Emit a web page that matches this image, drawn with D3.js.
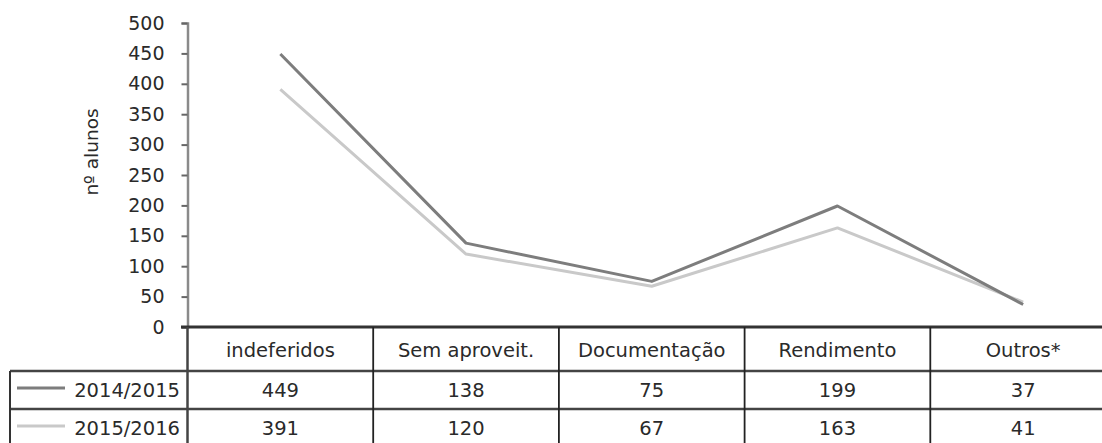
<!DOCTYPE html>
<html>
<head>
<meta charset="utf-8">
<script src="https://cdn.jsdelivr.net/npm/d3@7"></script>
<style>
  body { margin: 0; background: #fff; }
  svg text { font-family: "DejaVu Sans", Verdana, sans-serif; fill: #2a2a2a; }
</style>
</head>
<body>
<svg id="chart" width="1102" height="443"></svg>
<script>
const categories = ['indeferidos', 'Sem aproveit.', 'Documentação', 'Rendimento', 'Outros*']
const seriesNames = ['2014/2015', '2015/2016']
const values2014 = [449, 138, 75, 199, 37]
const values2015 = [391, 120, 67, 163, 41]
const yTicks = [0, 50, 100, 150, 200, 250, 300, 350, 400, 450, 500]
const lineColors = ['#7d7d7d', '#c9c9c9']

const svg = d3.select('#chart')

let x = d3.scaleBand().domain(categories).range([187.5, 1116]).padding(0)
let y = d3.scaleLinear().domain([0, 500]).range([327, 23])

// y axis
let yAxis = svg.append('g')
  .attr('transform', 'translate(187.5,0)')
  .call(d3.axisLeft(y).tickValues(yTicks).tickSize(6).tickPadding(17))
yAxis.select('.domain').attr('stroke', '#8a8a8a').attr('stroke-width', 2.5)
yAxis.selectAll('.tick line').attr('stroke', '#666').attr('stroke-width', 2)
yAxis.selectAll('.tick text').style('font-size', '19px').attr('fill', '#2a2a2a')

svg.append('text')
  .attr('transform', 'translate(98,152) rotate(-90)')
  .attr('text-anchor', 'middle')
  .style('font-size', '18.5px')
  .text('nº alunos')

// lines
const series = [values2014, values2015]
let line = d3.line()
  .x((d, i) => x(categories[i]) + x.bandwidth() / 2)
  .y(d => y(d))

// light first so dark sits on top
svg.selectAll('path.series')
  .data([1, 0])
  .enter()
  .append('path')
  .attr('class', 'series')
  .attr('d', s => line(series[s]))
  .attr('fill', 'none')
  .attr('stroke', s => lineColors[s])
  .attr('stroke-width', 3)
  .attr('stroke-linejoin', 'round')

// data table
const rowTop = [327, 371, 409, 447]
const tableLeft = 10
let table = svg.append('g')

// horizontal rules
table.append('line')
  .attr('x1', 181).attr('x2', 1102).attr('y1', rowTop[0]).attr('y2', rowTop[0])
  .attr('stroke', '#333').attr('stroke-width', 3)
table.selectAll('line.hrow')
  .data([rowTop[1], rowTop[2]])
  .enter()
  .append('line')
  .attr('class', 'hrow')
  .attr('x1', tableLeft).attr('x2', 1102)
  .attr('y1', d => d).attr('y2', d => d)
  .attr('stroke', '#444').attr('stroke-width', 2.5)

// vertical rules
table.selectAll('line.vcol')
  .data(categories.slice(1))
  .enter()
  .append('line')
  .attr('class', 'vcol')
  .attr('x1', d => x(d)).attr('x2', d => x(d))
  .attr('y1', rowTop[0]).attr('y2', 443)
  .attr('stroke', '#222').attr('stroke-width', 1.8)
table.append('line')
  .attr('x1', 187.5).attr('x2', 187.5).attr('y1', rowTop[0]).attr('y2', 443)
  .attr('stroke', '#444').attr('stroke-width', 2.5)
table.append('line')
  .attr('x1', tableLeft).attr('x2', tableLeft).attr('y1', rowTop[1]).attr('y2', 443)
  .attr('stroke', '#333').attr('stroke-width', 2)

// header
table.selectAll('text.head')
  .data(categories)
  .enter()
  .append('text')
  .attr('class', 'head')
  .attr('x', d => x(d) + x.bandwidth() / 2)
  .attr('y', 357)
  .attr('text-anchor', 'middle')
  .style('font-size', '19.5px')
  .text(d => d)

// value rows
series.forEach((vals, s) => {
  let cy = (rowTop[s + 1] + rowTop[s + 2]) / 2
  table.selectAll('text.v' + s)
    .data(vals)
    .enter()
    .append('text')
    .attr('class', 'v' + s)
    .attr('x', (d, i) => x(categories[i]) + x.bandwidth() / 2)
    .attr('y', cy + 7)
    .attr('text-anchor', 'middle')
    .style('font-size', '19.5px')
    .text(d => d)

  table.append('line')
    .attr('x1', 17).attr('x2', 65).attr('y1', cy - 2).attr('y2', cy - 2)
    .attr('stroke', lineColors[s]).attr('stroke-width', 3)
  table.append('text')
    .attr('x', 180)
    .attr('y', cy + 7)
    .attr('text-anchor', 'end')
    .style('font-size', '19.5px')
    .text(seriesNames[s])
})
</script>
</body>
</html>
